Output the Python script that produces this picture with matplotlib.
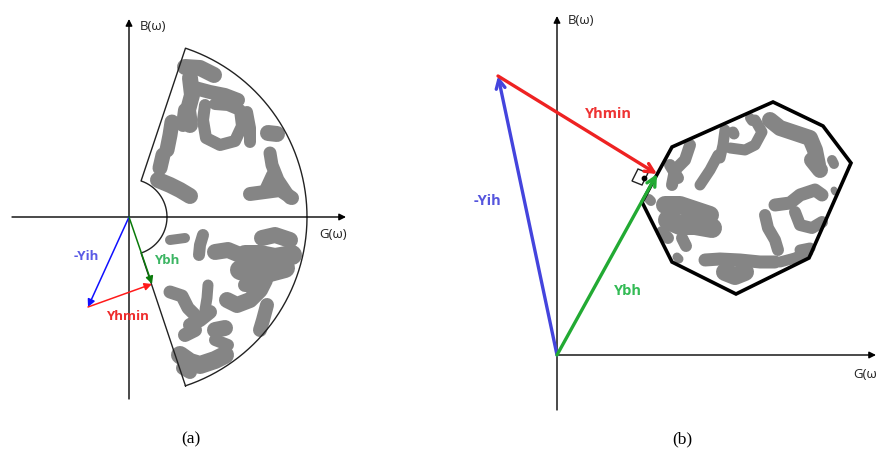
import numpy as np
import matplotlib.pyplot as plt
from matplotlib.patches import Polygon

# Diagram drawn in pixel units (x right, y down)
W, H = 876, 451

# ---- panel (a): annular sector region in the admittance plane ----
a_origin = (129, 217)
a_r_inner, a_r_outer = 38, 178
a_theta = 71.5  # half opening angle, degrees
a_neg_yih = (88, 307)       # tip of -Yih
a_ybh = (152, 284)          # tip of Ybh, on the sector edge

# gray clusters: (points, width in px)
a_clusters = [
    ([(185, 67), (200, 68), (214, 75)], 14),
    ([(190, 78), (192, 95), (188, 110), (190, 125)], 14),
    ([(195, 88), (210, 92), (225, 95), (238, 100)], 12),
    ([(205, 105), (203, 120), (206, 138), (220, 145), (235, 141),
      (242, 126), (240, 110), (228, 105), (215, 104)], 10),
    ([(247, 112), (250, 128), (250, 142)], 10),
    ([(268, 133), (277, 134)], 14),
    ([(172, 122), (170, 135), (167, 150)], 13),
    ([(163, 155), (160, 168)], 13),
    ([(158, 180), (170, 185), (180, 190), (190, 196)], 14),
    ([(185, 110), (183, 125)], 12),
    ([(270, 153), (272, 165), (278, 180), (290, 198)], 11),
    ([(250, 194), (265, 192), (280, 190), (292, 198)], 12),
    ([(272, 175), (266, 188)], 10),
    ([(170, 240), (185, 238)], 8),
    ([(203, 235), (200, 245), (199, 255)], 10),
    ([(215, 252), (228, 250), (240, 255)], 14),
    ([(262, 238), (275, 235), (290, 240)], 14),
    ([(245, 255), (260, 255), (275, 258), (292, 255)], 18),
    ([(240, 270), (255, 275), (270, 272), (285, 268)], 18),
    ([(227, 300), (237, 305), (250, 300), (260, 290), (265, 280)], 14),
    ([(245, 285), (260, 285)], 12),
    ([(267, 305), (263, 320), (260, 330)], 12),
    ([(170, 292), (182, 296), (188, 308), (195, 315)], 11),
    ([(208, 285), (207, 298), (205, 310)], 9),
    ([(190, 325), (200, 320), (210, 312)], 12),
    ([(185, 335), (195, 330)], 12),
    ([(215, 330), (225, 328)], 14),
    ([(215, 340), (228, 345)], 10),
    ([(180, 355), (190, 362), (200, 365), (215, 360), (225, 355)], 16),
    ([(183, 368), (190, 372)], 12),
]

# ---- panel (b): polygon region ----
b_origin = (557, 355)
b_neg_yih = (498, 76)
b_ybh = (657, 174)
b_polygon = [(672, 147), (773, 102), (823, 126), (851, 163),
             (809, 258), (736, 294), (672, 262), (642, 202)]
b_right_angle = [(632, 181), (638, 169), (648, 173), (642, 185)]
b_clusters = [
    ([(690, 145), (685, 160), (675, 170), (672, 185)], 10),
    ([(670, 165), (678, 178)], 10),
    ([(718, 155), (710, 170), (700, 185)], 9),
    ([(725, 130), (723, 145), (720, 158)], 9),
    ([(733, 132), (734, 134)], 9),
    ([(730, 148), (745, 150), (755, 145), (762, 132), (755, 120)], 9),
    ([(750, 118), (752, 121)], 8),
    ([(770, 120), (780, 128), (795, 133), (810, 138), (815, 150), (818, 165)], 14),
    ([(812, 160), (820, 170)], 14),
    ([(832, 160), (834, 164)], 8),
    ([(834, 190), (835, 192)], 5),
    ([(665, 205), (680, 205), (695, 210), (710, 215)], 16),
    ([(668, 220), (680, 225), (695, 225), (712, 228)], 18),
    ([(662, 232), (668, 238)], 10),
    ([(682, 238), (686, 246)], 10),
    ([(649, 199), (651, 201)], 8),
    ([(775, 205), (790, 203), (800, 195), (815, 190), (822, 195)], 11),
    ([(765, 215), (768, 228), (775, 240), (778, 250)], 10),
    ([(795, 212), (800, 225), (812, 228), (822, 222)], 10),
    ([(800, 250), (810, 248)], 9),
    ([(705, 260), (720, 259), (740, 260), (760, 262), (775, 262)], 11),
    ([(725, 272), (735, 276), (745, 272)], 16),
    ([(780, 262), (795, 258), (808, 252)], 9),
    ([(677, 257), (679, 259)], 7),
]

GRAY = '#858585'
PX = 0.72  # points per pixel at dpi 100

fig = plt.figure(figsize=(W / 100, H / 100), dpi=100)
ax = fig.add_axes([0, 0, 1, 1])
ax.set_xlim(0, W)
ax.set_ylim(H, 0)
ax.axis('off')


def clusters(items):
    for pts, w in items:
        xs, ys = zip(*pts)
        ax.plot(xs, ys, color=GRAY, lw=(w + 2) * PX, solid_capstyle='round',
                solid_joinstyle='round', zorder=1)


def axes_arrow(x0, y0, x1, y1):
    ax.annotate('', xy=(x1, y1), xytext=(x0, y0),
                arrowprops=dict(arrowstyle='-|>', color='black', lw=1,
                                mutation_scale=10, shrinkA=0, shrinkB=0),
                zorder=3)


# panel (a)
clusters(a_clusters)
ox, oy = a_origin
t = np.radians(np.linspace(-a_theta, a_theta, 200))
outer = np.column_stack([ox + a_r_outer * np.cos(t), oy - a_r_outer * np.sin(t)])
inner = np.column_stack([ox + a_r_inner * np.cos(t), oy - a_r_inner * np.sin(t)])[::-1]
sector = np.vstack([outer, inner, outer[:1]])
ax.plot(sector[:, 0], sector[:, 1], color='#222222', lw=1, zorder=2)

axes_arrow(12, oy, 346, oy)
axes_arrow(ox, 399, ox, 19)
ax.text(140, 26, 'B(ω)', fontsize=9.5, family='Open Sans', va='center', color='#222222')
ax.text(319, 234, 'G(ω)', fontsize=9.5, family='Open Sans', va='center', color='#222222')

for start, end, col in [(a_origin, a_neg_yih, '#1010ff'),
                        (a_neg_yih, a_ybh, '#ff1a1a'),
                        (a_origin, a_ybh, '#0a7a0a')]:
    ax.annotate('', xy=end, xytext=start,
                arrowprops=dict(arrowstyle='-|>', color=col, lw=1.1,
                                mutation_scale=11, shrinkA=0, shrinkB=0),
                zorder=4)

lbl = dict(fontsize=9.5, family='Open Sans', fontweight='bold', ha='center', va='center')
ax.text(86, 256, '-Yih', color='#5a5ae6', **lbl)
ax.text(167, 261, 'Ybh', color='#3cb563', **lbl)
ax.text(127, 317, 'Yhmin', color='#ee2b2b', **lbl)

# panel (b)
clusters(b_clusters)
ax.add_patch(Polygon(b_polygon, closed=True, fill=False, ec='black', lw=2.6,
                     joinstyle='miter', zorder=2))
bx, by = b_origin
axes_arrow(bx, by, 876, by)
axes_arrow(bx, 410, bx, 16)
ax.text(568, 20, 'B(ω)', fontsize=9.5, family='Open Sans', va='center', color='#222222')
ax.text(853, 375, 'G(ω)', fontsize=9.5, family='Open Sans', va='center', color='#222222')

for start, end, col in [(b_origin, b_neg_yih, '#4444dd'),
                        (b_neg_yih, b_ybh, '#ee2222'),
                        (b_origin, b_ybh, '#22aa33')]:
    ax.annotate('', xy=end, xytext=start,
                arrowprops=dict(arrowstyle='->', color=col, lw=2.4,
                                mutation_scale=16, shrinkA=0, shrinkB=0),
                zorder=4)

ax.add_patch(Polygon(b_right_angle, closed=True, fill=False, ec='#222222', lw=1, zorder=3))
ax.scatter([644], [178], s=10, color='black', zorder=5)

lbl_b = dict(fontsize=10.5, family='Open Sans', fontweight='bold', ha='center', va='center')
ax.text(608, 114, 'Yhmin', color='#ee3333', **lbl_b)
ax.text(487, 201, '-Yih', color='#5555dd', **lbl_b)
ax.text(628, 291, 'Ybh', color='#33bb55', **lbl_b)

# captions
cap = dict(fontsize=12.5, family='Liberation Serif', ha='center', va='center')
ax.text(191, 439, '(a)', **cap)
ax.text(682, 439, '(b)', **cap)

fig.savefig('out.png', dpi=100)
